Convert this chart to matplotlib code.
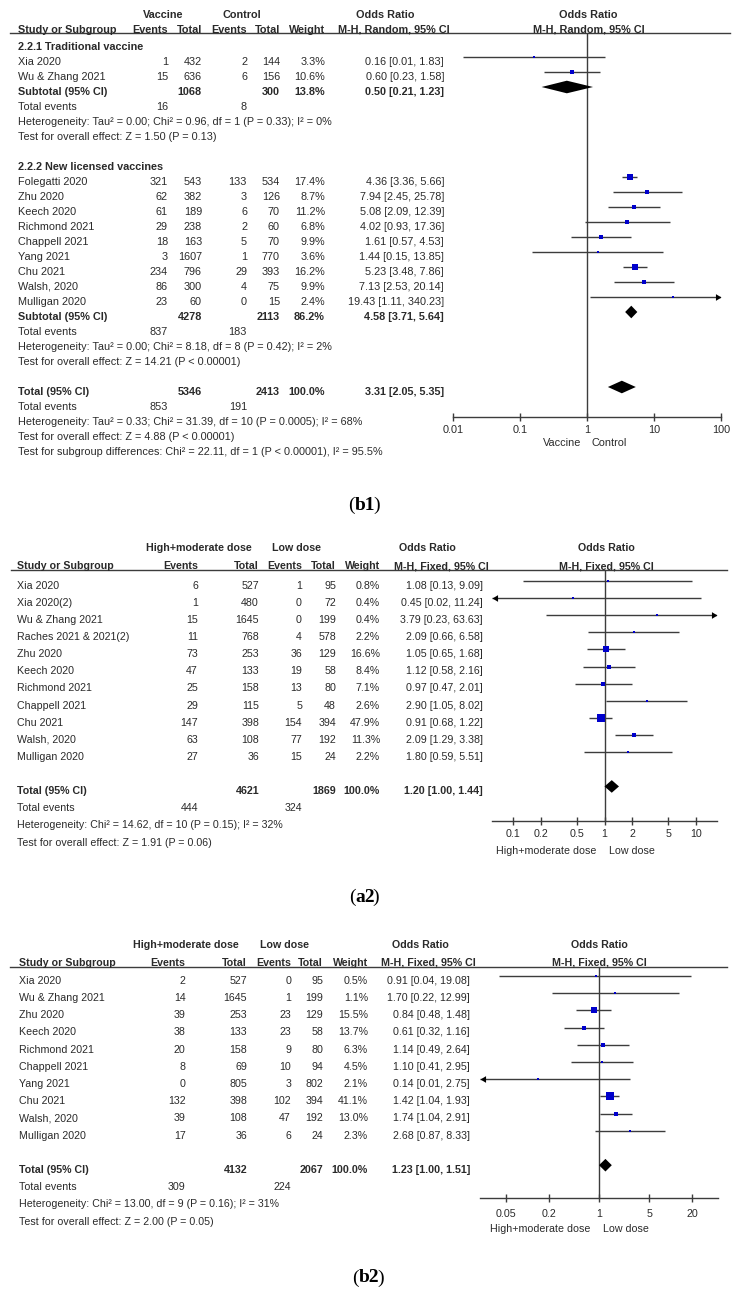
import matplotlib
matplotlib.use("Agg")
import matplotlib.pyplot as plt
from matplotlib import font_manager
from matplotlib.patches import Polygon
from matplotlib.path import Path
from matplotlib.ticker import NullLocator, FixedLocator
from matplotlib.transforms import blended_transform_factory
import numpy as np

# ---------------- data: panel (b1) ----------------
b1_study = ["Xia 2020", "Wu & Zhang 2021", "Folegatti 2020", "Zhu 2020", "Keech 2020",
            "Richmond 2021", "Chappell 2021", "Yang 2021", "Chu 2021", "Walsh, 2020", "Mulligan 2020"]
b1_group = [0, 0, 1, 1, 1, 1, 1, 1, 1, 1, 1]
b1_vac_events = [1, 15, 321, 62, 61, 29, 18, 3, 234, 86, 23]
b1_vac_total = [432, 636, 543, 382, 189, 238, 163, 1607, 796, 300, 60]
b1_ctl_events = [2, 6, 133, 3, 6, 2, 5, 1, 29, 4, 0]
b1_ctl_total = [144, 156, 534, 126, 70, 60, 70, 770, 393, 75, 15]
b1_weight = [3.3, 10.6, 17.4, 8.7, 11.2, 6.8, 9.9, 3.6, 16.2, 9.9, 2.4]
b1_or = [0.16, 0.60, 4.36, 7.94, 5.08, 4.02, 1.61, 1.44, 5.23, 7.13, 19.43]
b1_lo = [0.014, 0.23, 3.36, 2.45, 2.09, 0.93, 0.57, 0.15, 3.48, 2.53, 1.11]
b1_hi = [1.83, 1.58, 5.66, 25.78, 12.39, 17.36, 4.53, 13.85, 7.86, 20.14, 340.23]

b1_group_title = ["2.2.1 Traditional vaccine", "2.2.2 New licensed vaccines"]
b1_sub_vac_total = [1068, 4278]
b1_sub_ctl_total = [300, 2113]
b1_sub_weight = [13.8, 86.2]
b1_sub_or = [0.50, 4.58]
b1_sub_lo = [0.21, 3.71]
b1_sub_hi = [1.23, 5.64]
b1_sub_vac_events = [16, 837]
b1_sub_ctl_events = [8, 183]
b1_sub_het = ["Heterogeneity: Tau² = 0.00; Chi² = 0.96, df = 1 (P = 0.33); I² = 0%",
              "Heterogeneity: Tau² = 0.00; Chi² = 8.18, df = 8 (P = 0.42); I² = 2%"]
b1_sub_test = ["Test for overall effect: Z = 1.50 (P = 0.13)",
               "Test for overall effect: Z = 14.21 (P < 0.00001)"]

b1_total_vac_total = 5346
b1_total_ctl_total = 2413
b1_total_weight = 100.0
b1_total_or = 3.31
b1_total_lo = 2.05
b1_total_hi = 5.35
b1_total_vac_events = 853
b1_total_ctl_events = 191
b1_total_notes = ["Heterogeneity: Tau² = 0.33; Chi² = 31.39, df = 10 (P = 0.0005); I² = 68%",
                  "Test for overall effect: Z = 4.88 (P < 0.00001)",
                  "Test for subgroup differences: Chi² = 22.11, df = 1 (P < 0.00001), I² = 95.5%"]
b1_ticks = [0.01, 0.1, 1, 10, 100]
b1_tick_labels = ["0.01", "0.1", "1", "10", "100"]
b1_arm_labels = ["Vaccine", "Control"]

# ---------------- data: panel (a2) ----------------
a2_study = ["Xia 2020", "Xia 2020(2)", "Wu & Zhang 2021", "Raches 2021 & 2021(2)", "Zhu 2020",
            "Keech 2020", "Richmond 2021", "Chappell 2021", "Chu 2021", "Walsh, 2020", "Mulligan 2020"]
a2_hm_events = [6, 1, 15, 11, 73, 47, 25, 29, 147, 63, 27]
a2_hm_total = [527, 480, 1645, 768, 253, 133, 158, 115, 398, 108, 36]
a2_low_events = [1, 0, 0, 4, 36, 19, 13, 5, 154, 77, 15]
a2_low_total = [95, 72, 199, 578, 129, 58, 80, 48, 394, 192, 24]
a2_weight = [0.8, 0.4, 0.4, 2.2, 16.6, 8.4, 7.1, 2.6, 47.9, 11.3, 2.2]
a2_or = [1.08, 0.45, 3.79, 2.09, 1.05, 1.12, 0.97, 2.90, 0.91, 2.09, 1.80]
a2_lo = [0.13, 0.02, 0.23, 0.66, 0.65, 0.58, 0.47, 1.05, 0.68, 1.29, 0.59]
a2_hi = [9.09, 11.24, 63.63, 6.58, 1.68, 2.16, 2.01, 8.02, 1.22, 3.38, 5.51]
a2_total_hm_total = 4621
a2_total_low_total = 1869
a2_total_weight = 100.0
a2_total_or = 1.20
a2_total_lo = 1.00
a2_total_hi = 1.44
a2_total_hm_events = 444
a2_total_low_events = 324
a2_notes = ["Heterogeneity: Chi² = 14.62, df = 10 (P = 0.15); I² = 32%",
            "Test for overall effect: Z = 1.91 (P = 0.06)"]
a2_ticks = [0.1, 0.2, 0.5, 1, 2, 5, 10]
a2_tick_labels = ["0.1", "0.2", "0.5", "1", "2", "5", "10"]

# ---------------- data: panel (b2) ----------------
b2_study = ["Xia 2020", "Wu & Zhang 2021", "Zhu 2020", "Keech 2020", "Richmond 2021",
            "Chappell 2021", "Yang 2021", "Chu 2021", "Walsh, 2020", "Mulligan 2020"]
b2_hm_events = [2, 14, 39, 38, 20, 8, 0, 132, 39, 17]
b2_hm_total = [527, 1645, 253, 133, 158, 69, 805, 398, 108, 36]
b2_low_events = [0, 1, 23, 23, 9, 10, 3, 102, 47, 6]
b2_low_total = [95, 199, 129, 58, 80, 94, 802, 394, 192, 24]
b2_weight = [0.5, 1.1, 15.5, 13.7, 6.3, 4.5, 2.1, 41.1, 13.0, 2.3]
b2_or = [0.91, 1.70, 0.84, 0.61, 1.14, 1.10, 0.14, 1.42, 1.74, 2.68]
b2_lo = [0.04, 0.22, 0.48, 0.32, 0.49, 0.41, 0.01, 1.04, 1.04, 0.87]
b2_hi = [19.08, 12.99, 1.48, 1.16, 2.64, 2.95, 2.75, 1.93, 2.91, 8.33]
b2_total_hm_total = 4132
b2_total_low_total = 2067
b2_total_weight = 100.0
b2_total_or = 1.23
b2_total_lo = 1.00
b2_total_hi = 1.51
b2_total_hm_events = 309
b2_total_low_events = 224
b2_notes = ["Heterogeneity: Chi² = 13.00, df = 9 (P = 0.16); I² = 31%",
            "Test for overall effect: Z = 2.00 (P = 0.05)"]
b2_ticks = [0.05, 0.2, 1, 5, 20]
b2_tick_labels = ["0.05", "0.2", "1", "5", "20"]
dose_arm_labels = ["High+moderate dose", "Low dose"]

# ---------------- style ----------------
W, H, DPI = 745, 1291, 100
TXT = "#2a2a2a"
LINE = "#3c3c3c"
BLUE = "#0000cc"
names = {f.name for f in font_manager.fontManager.ttflist}
if "Liberation Sans Narrow" in names:
    FAM = "Liberation Sans Narrow"
elif "Liberation Sans" in names:
    FAM = "Liberation Sans"
else:
    FAM = "DejaVu Sans"
SERIF = "Liberation Serif" if "Liberation Serif" in names else "DejaVu Serif"
CAP = 0.35

fig = plt.figure(figsize=(W / DPI, H / DPI), dpi=DPI)
bg = fig.add_axes([0, 0, 1, 1])
bg.set_xlim(0, W)
bg.set_ylim(H, 0)
bg.axis("off")
renderer = fig.canvas.get_renderer()


def calib(s, target_px):
    t = bg.text(0, 0, s, fontsize=10, family=FAM)
    w = t.get_window_extent(renderer).width
    t.remove()
    return 10 * target_px / w


def put(x, y, s, fs, ha="left", bold=False, color=TXT):
    bg.text(x, y + CAP * fs * DPI / 72, s, fontsize=fs, family=FAM, ha=ha, va="baseline",
            fontweight="bold" if bold else "normal", color=color)


def fmt_or(o, l, h):
    return f"{o:.2f} [{l:.2f}, {h:.2f}]"


def forest_axes(x0, x1, ytop, ybot, xlim, ticks, labels, lab_y, fs):
    ax = fig.add_axes([x0 / W, 1 - ybot / H, (x1 - x0) / W, (ybot - ytop) / H])
    ax.set_xscale("log")
    ax.set_xlim(*xlim)
    ax.set_ylim(ybot, ytop)
    ax.patch.set_visible(False)
    for s in ["top", "left", "right"]:
        ax.spines[s].set_visible(False)
    ax.spines["bottom"].set_color(LINE)
    ax.spines["bottom"].set_linewidth(1.0)
    ax.xaxis.set_major_locator(FixedLocator(ticks))
    ax.xaxis.set_minor_locator(NullLocator())
    ax.tick_params(axis="x", which="major", direction="inout", length=5.5, width=1.0,
                   color=LINE, labelbottom=False)
    ax.set_yticks([])
    ax.axvline(1, color=LINE, lw=1.0, zorder=1)
    tr = blended_transform_factory(ax.transData, bg.transData)
    for v, l in zip(ticks, labels):
        ax.text(v, lab_y + CAP * fs * DPI / 72, l, transform=tr, ha="center", va="baseline",
                fontsize=fs, family=FAM, color=TXT, clip_on=False)
    return ax


ARROW_R = Path([(0, 0), (-1, 0.6), (-1, -0.6), (0, 0)])
ARROW_L = Path([(0, 0), (1, 0.6), (1, -0.6), (0, 0)])


def study_mark(ax, y, o, lo, hi, w):
    xmin, xmax = ax.get_xlim()
    a, b = max(lo, xmin), min(hi, xmax)
    ax.plot([a, b], [y, y], color=LINE, lw=1.0, solid_capstyle="butt", zorder=2)
    if lo < xmin:
        ax.plot([xmin], [y], marker=ARROW_L, ms=8, color="black", mew=0, clip_on=False, zorder=3)
    if hi > xmax:
        ax.plot([xmax], [y], marker=ARROW_R, ms=8, color="black", mew=0, clip_on=False, zorder=3)
    side = max(2.6, 1.28 * np.sqrt(w))
    ax.scatter([o], [y], marker="s", s=(side * 0.72) ** 2, color=BLUE, linewidths=0, zorder=4)


def diamond(ax, y, o, lo, hi, h=6.3):
    ax.add_patch(Polygon([[lo, y], [o, y - h], [hi, y], [o, y + h]], closed=True,
                         facecolor="black", edgecolor="none", zorder=4))


def caption(xc, y, label, fs=14):
    parts = [("(", "normal", 0.0), (label, "bold", 0.0), (")", "normal", -2.0)]
    widths = []
    for s, wgt, _ in parts:
        t = bg.text(0, 0, s, fontsize=fs, family=SERIF, fontweight=wgt)
        widths.append(t.get_window_extent(renderer).width)
        t.remove()
    x = xc - (sum(widths) - 2.0) / 2
    for (s, wgt, dx), wd in zip(parts, widths):
        bg.text(x + dx, y, s, fontsize=fs, family=SERIF, fontweight=wgt, ha="left", va="center",
                color="black")
        x += wd


def header(P, fs, grp_labels):
    put(P["g1x"], P["h1"], grp_labels[0], fs, ha="center", bold=True)
    put(P["g2x"], P["h1"], grp_labels[1], fs, ha="center", bold=True)
    put(P["orx"], P["h1"], "Odds Ratio", fs, ha="center", bold=True)
    put(P["left"], P["h2"], "Study or Subgroup", fs, bold=True)
    put(P["e1"], P["h2"], "Events", fs, ha="right", bold=True)
    put(P["n1"], P["h2"], "Total", fs, ha="right", bold=True)
    put(P["e2"], P["h2"], "Events", fs, ha="right", bold=True)
    put(P["n2"], P["h2"], "Total", fs, ha="right", bold=True)
    put(P["w"], P["h2"], "Weight", fs, ha="right", bold=True)
    put(P["mhx"], P["h2"], P["method"], fs, ha="center", bold=True)
    put(P["fx"], P["h1"], "Odds Ratio", fs, ha="center", bold=True)
    put(P["fx"], P["h2"], P["method"], fs, ha="center", bold=True)
    bg.plot([P["line_x0"], P["line_x1"]], [P["line"], P["line"]], color=LINE, lw=1.0)


def table_row(P, y, fs, name, e1, n1, e2, n2, w, orv, lo, hi, bold=False):
    put(P["left"], y, name, fs, bold=bold)
    if e1 is not None:
        put(P["e1"], y, str(e1), fs, ha="right", bold=bold)
    put(P["n1"], y, str(n1), fs, ha="right", bold=bold)
    if e2 is not None:
        put(P["e2"], y, str(e2), fs, ha="right", bold=bold)
    put(P["n2"], y, str(n2), fs, ha="right", bold=bold)
    put(P["w"], y, f"{w:.1f}%", fs, ha="right", bold=bold)
    put(P["orr"], y, fmt_or(orv, lo, hi), fs, ha="right", bold=bold)


MARK_OFF = 4.0

# ================= panel (b1) =================
P1 = dict(left=18, e1=168, n1=202, e2=247, n2=280, w=325, orr=444, mhx=394, orx=385,
          g1x=163, g2x=242, h1=14.7, h2=28.8, line=33.3, line_x0=10, line_x1=730,
          fx=588.5, method="M-H, Random, 95% CI", row0=46, pitch=15.0)
fs1 = calib(b1_sub_het[0], 312)
header(P1, fs1, ["Vaccine", "Control"])
ax1 = forest_axes(453, 721, P1["line"], 416.7, (0.01, 100), b1_ticks, b1_tick_labels, 429, fs1)
put(562, 442, b1_arm_labels[0], fs1, ha="center")
put(609, 442, b1_arm_labels[1], fs1, ha="center")

ry = lambda P, i: P["row0"] + P["pitch"] * i
i = 0
for g in range(len(b1_group_title)):
    put(P1["left"], ry(P1, i), b1_group_title[g], fs1, bold=True)
    i += 1
    for k in [k for k in range(len(b1_study)) if b1_group[k] == g]:
        y = ry(P1, i)
        table_row(P1, y, fs1, b1_study[k], b1_vac_events[k], b1_vac_total[k], b1_ctl_events[k],
                  b1_ctl_total[k], b1_weight[k], b1_or[k], b1_lo[k], b1_hi[k])
        study_mark(ax1, y - MARK_OFF, b1_or[k], b1_lo[k], b1_hi[k], b1_weight[k])
        i += 1
    y = ry(P1, i)
    table_row(P1, y, fs1, "Subtotal (95% CI)", None, b1_sub_vac_total[g], None, b1_sub_ctl_total[g],
              b1_sub_weight[g], b1_sub_or[g], b1_sub_lo[g], b1_sub_hi[g], bold=True)
    diamond(ax1, y - MARK_OFF, b1_sub_or[g], b1_sub_lo[g], b1_sub_hi[g])
    i += 1
    y = ry(P1, i)
    put(P1["left"], y, "Total events", fs1)
    put(P1["e1"], y, str(b1_sub_vac_events[g]), fs1, ha="right")
    put(P1["e2"], y, str(b1_sub_ctl_events[g]), fs1, ha="right")
    i += 1
    put(P1["left"], ry(P1, i), b1_sub_het[g], fs1)
    i += 1
    put(P1["left"], ry(P1, i), b1_sub_test[g], fs1)
    i += 2
y = ry(P1, i)
table_row(P1, y, fs1, "Total (95% CI)", None, b1_total_vac_total, None, b1_total_ctl_total,
          b1_total_weight, b1_total_or, b1_total_lo, b1_total_hi, bold=True)
diamond(ax1, y - MARK_OFF, b1_total_or, b1_total_lo, b1_total_hi)
i += 1
y = ry(P1, i)
put(P1["left"], y, "Total events", fs1)
put(P1["e1"], y, str(b1_total_vac_events), fs1, ha="right")
put(P1["e2"], y, str(b1_total_ctl_events), fs1, ha="right")
i += 1
for note in b1_total_notes:
    put(P1["left"], ry(P1, i), note, fs1)
    i += 1
caption(364, 505, "b1")


# ================= panels (a2), (b2) =================
def dose_panel(P, fs, studies, e1, n1, e2, n2, wts, ors, los, his, tot, notes, xlim, ticks,
               tick_labels, axis_y, lab_y, arm_y, arm_x, cap_label, cap_xy):
    header(P, fs, dose_arm_labels)
    ax = forest_axes(P["ax_x0"], P["ax_x1"], P["line"], axis_y, xlim, ticks, tick_labels, lab_y, fs)
    put(arm_x[0], arm_y, dose_arm_labels[0], fs, ha="center")
    put(arm_x[1], arm_y, dose_arm_labels[1], fs, ha="center")
    for k in range(len(studies)):
        y = ry(P, k)
        table_row(P, y, fs, studies[k], e1[k], n1[k], e2[k], n2[k], wts[k], ors[k], los[k], his[k])
        study_mark(ax, y - MARK_OFF, ors[k], los[k], his[k], wts[k])
    k = len(studies) + 1
    y = ry(P, k)
    table_row(P, y, fs, "Total (95% CI)", None, tot[0], None, tot[1], tot[2], tot[3], tot[4], tot[5],
              bold=True)
    diamond(ax, y - MARK_OFF, tot[3], tot[4], tot[5])
    y = ry(P, k + 1)
    put(P["left"], y, "Total events", fs)
    put(P["e1"], y, str(tot[6]), fs, ha="right")
    put(P["e2"], y, str(tot[7]), fs, ha="right")
    for j, note in enumerate(notes):
        put(P["left"], ry(P, k + 2 + j), note, fs)
    caption(cap_xy[0], cap_xy[1], cap_label)


P2 = dict(left=17, e1=198, n1=259, e2=302, n2=336, w=380, orr=483, mhx=441, orx=427.5,
          g1x=199, g2x=297, h1=547.5, h2=565.5, line=570, line_x0=11, line_x1=727,
          fx=606, method="M-H, Fixed, 95% CI", row0=585, pitch=17.12, ax_x0=492, ax_x1=717)
fs2 = calib(a2_notes[0], 264)
dose_panel(P2, fs2, a2_study, a2_hm_events, a2_hm_total, a2_low_events, a2_low_total, a2_weight,
           a2_or, a2_lo, a2_hi,
           [a2_total_hm_total, a2_total_low_total, a2_total_weight, a2_total_or, a2_total_lo,
            a2_total_hi, a2_total_hm_events, a2_total_low_events],
           a2_notes, (1 / 17, 17), a2_ticks, a2_tick_labels, 820.7, 833, 850, (546, 632),
           "a2", (364, 897))

P3 = dict(left=19, e1=185.5, n1=247, e2=291, n2=323, w=368, orr=470, mhx=428, orx=420,
          g1x=186, g2x=284, h1=944, h2=962.2, line=966.7, line_x0=10, line_x1=727,
          fx=599, method="M-H, Fixed, 95% CI", row0=980, pitch=17.2, ax_x0=480, ax_x1=718)
fs3 = calib(b2_notes[0], 260)
dose_panel(P3, fs3, b2_study, b2_hm_events, b2_hm_total, b2_low_events, b2_low_total, b2_weight,
           b2_or, b2_lo, b2_hi,
           [b2_total_hm_total, b2_total_low_total, b2_total_weight, b2_total_or, b2_total_lo,
            b2_total_hi, b2_total_hm_events, b2_total_low_events],
           b2_notes, (1 / 46, 46), b2_ticks, b2_tick_labels, 1198.3, 1213, 1228, (540, 626),
           "b2", (368, 1278))

fig.savefig("out.png", dpi=DPI)
